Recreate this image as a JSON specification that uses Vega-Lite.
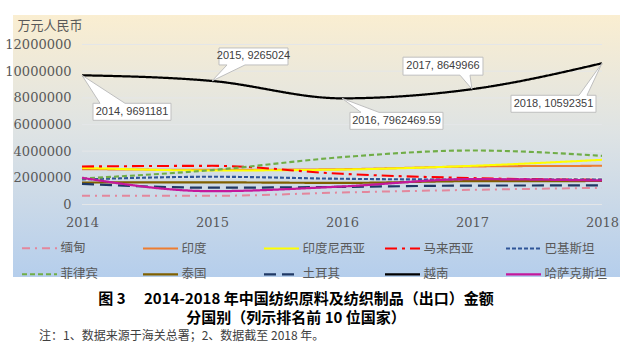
{
  "$schema": "https://vega.github.io/schema/vega-lite/v6.json",
  "width": 607,
  "height": 262,
  "autosize": {"type": "none"},
  "padding": {"left": 13, "top": 15, "right": 20, "bottom": 76},
  "background": "white",
  "view": {
    "stroke": null,
    "fill": {"gradient": "linear", "x1": 0, "y1": 0, "x2": 0, "y2": 1,
      "stops": [
        {"offset": 0, "color": "#FAEED1"},
        {"offset": 0.45, "color": "#DEE3E4"},
        {"offset": 1, "color": "#B5CEEC"}
      ]}
  },
  "title": {
    "text": "注：1、数据来源于海关总署；2、数据截至 2018 年。",
    "orient": "bottom", "anchor": "start", "frame": "group", "dx": 26, "offset": 5,
    "fontSize": 12, "fontWeight": "normal", "font": "Noto Sans CJK SC", "color": "#404040"
  },
  "data": {"values": [
    {"country": "缅甸", "year": 2014, "value": 650000},
    {"country": "缅甸", "year": 2015, "value": 650000},
    {"country": "缅甸", "year": 2016, "value": 900000},
    {"country": "缅甸", "year": 2017, "value": 1100000},
    {"country": "缅甸", "year": 2018, "value": 1250000},
    {"country": "印度", "year": 2014, "value": 2650000},
    {"country": "印度", "year": 2015, "value": 2600000},
    {"country": "印度", "year": 2016, "value": 2650000},
    {"country": "印度", "year": 2017, "value": 2850000},
    {"country": "印度", "year": 2018, "value": 2900000},
    {"country": "印度尼西亚", "year": 2014, "value": 2750000},
    {"country": "印度尼西亚", "year": 2015, "value": 2550000},
    {"country": "印度尼西亚", "year": 2016, "value": 2620000},
    {"country": "印度尼西亚", "year": 2017, "value": 2900000},
    {"country": "印度尼西亚", "year": 2018, "value": 3350000},
    {"country": "马来西亚", "year": 2014, "value": 2850000},
    {"country": "马来西亚", "year": 2015, "value": 2900000},
    {"country": "马来西亚", "year": 2016, "value": 2300000},
    {"country": "马来西亚", "year": 2017, "value": 1980000},
    {"country": "马来西亚", "year": 2018, "value": 1850000},
    {"country": "巴基斯坦", "year": 2014, "value": 1880000},
    {"country": "巴基斯坦", "year": 2015, "value": 2080000},
    {"country": "巴基斯坦", "year": 2016, "value": 1930000},
    {"country": "巴基斯坦", "year": 2017, "value": 1870000},
    {"country": "巴基斯坦", "year": 2018, "value": 1880000},
    {"country": "菲律宾", "year": 2014, "value": 1950000},
    {"country": "菲律宾", "year": 2015, "value": 2580000},
    {"country": "菲律宾", "year": 2016, "value": 3550000},
    {"country": "菲律宾", "year": 2017, "value": 4050000},
    {"country": "菲律宾", "year": 2018, "value": 3650000},
    {"country": "泰国", "year": 2014, "value": 1650000},
    {"country": "泰国", "year": 2015, "value": 1660000},
    {"country": "泰国", "year": 2016, "value": 1620000},
    {"country": "泰国", "year": 2017, "value": 1750000},
    {"country": "泰国", "year": 2018, "value": 1760000},
    {"country": "土耳其", "year": 2014, "value": 1550000},
    {"country": "土耳其", "year": 2015, "value": 1260000},
    {"country": "土耳其", "year": 2016, "value": 1320000},
    {"country": "土耳其", "year": 2017, "value": 1420000},
    {"country": "土耳其", "year": 2018, "value": 1430000},
    {"country": "越南", "year": 2014, "value": 9691181},
    {"country": "越南", "year": 2015, "value": 9265024},
    {"country": "越南", "year": 2016, "value": 7962469.59},
    {"country": "越南", "year": 2017, "value": 8649966},
    {"country": "越南", "year": 2018, "value": 10592351},
    {"country": "哈萨克斯坦", "year": 2014, "value": 2000000},
    {"country": "哈萨克斯坦", "year": 2015, "value": 1000000},
    {"country": "哈萨克斯坦", "year": 2016, "value": 1350000},
    {"country": "哈萨克斯坦", "year": 2017, "value": 1900000},
    {"country": "哈萨克斯坦", "year": 2018, "value": 1800000}
  ]},
  "layer": [
    {
      "data": {"values": [{"value": 0}, {"value": 2000000}, {"value": 4000000}, {"value": 6000000}, {"value": 8000000}, {"value": 10000000}, {"value": 12000000}]},
      "mark": {"type": "rule", "color": "#E4E6E8", "strokeWidth": 1},
      "encoding": {
        "x": {"datum": 2014, "type": "quantitative", "scale": {"domain": [2013.4692, 2018.1385], "nice": false, "zero": false}},
        "x2": {"datum": 2018},
        "y": {"field": "value", "type": "quantitative", "scale": {"domain": [-5437500, 14212500], "nice": false, "zero": false}}
      }
    },
    {
      "mark": {"type": "line", "interpolate": "monotone"},
      "encoding": {
        "x": {"field": "year", "type": "quantitative",
          "scale": {"domain": [2013.4692, 2018.1385], "nice": false, "zero": false},
          "axis": {"values": [2014, 2015, 2016, 2017, 2018], "format": "d", "ticks": false, "domain": false, "grid": false,
            "offset": -72.5, "labelPadding": 17.5, "labelBaseline": "middle", "labelFlush": false,
            "labelFont": "DejaVu Serif", "labelFontSize": 13, "labelColor": "#595959",
            "title": ["图 3\u3000 2014-2018 年中国纺织原料及纺织制品（出口）金额", "分国别（列示排名前 10 位国家）"],
            "titleX": 282.5, "titleY": 87, "titleAlign": "center", "titleBaseline": "top",
            "titleFont": "Noto Sans CJK SC", "titleFontSize": 15, "titleFontWeight": "bold", "titleColor": "#000000", "titleLineHeight": 19}},
        "y": {"field": "value", "type": "quantitative",
          "scale": {"domain": [-5437500, 14212500], "nice": false, "zero": false},
          "axis": {"values": [0, 2000000, 4000000, 6000000, 8000000, 10000000, 12000000], "format": "d", "ticks": false, "domain": false, "grid": false,
            "labelPadding": -58, "labelAlign": "right", "labelFont": "DejaVu Serif", "labelFontSize": 13, "labelColor": "#595959",
            "title": "万元人民币", "titleAngle": 0, "titleX": 4, "titleY": 10, "titleAlign": "left", "titleBaseline": "middle",
            "titleFont": "Noto Sans CJK SC", "titleFontSize": 13, "titleFontWeight": "normal", "titleColor": "#595959"}},
        "color": {"field": "country", "type": "nominal",
          "scale": {"domain": ["缅甸", "印度", "印度尼西亚", "马来西亚", "巴基斯坦", "菲律宾", "泰国", "土耳其", "越南", "哈萨克斯坦"],
            "range": ["#E3879C", "#ED7D31", "#FFFF00", "#FF0000", "#2F5597", "#70AD47", "#806000", "#1F3864", "#000000", "#C4189C"]},
          "legend": {"title": null, "orient": "none", "legendX": 7.5, "legendY": 214.3, "direction": "horizontal", "columns": 5,
            "symbolType": "stroke", "symbolSize": 1225, "symbolStrokeWidth": 2.5,
            "labelFont": "Noto Sans CJK SC", "labelFontSize": 12.5, "labelColor": "#595959",
            "labelOffset": 2, "columnPadding": 15, "rowPadding": -24, "gridAlign": "all",
            "padding": 0, "labelLimit": 0}},
        "strokeDash": {"field": "country", "type": "nominal",
          "scale": {"domain": ["缅甸", "印度", "印度尼西亚", "马来西亚", "巴基斯坦", "菲律宾", "泰国", "土耳其", "越南", "哈萨克斯坦"],
            "range": [[8, 5, 2, 5], [1, 0], [1, 0], [12, 5, 3, 5], [4, 2], [5, 3], [1, 0], [12, 6], [1, 0], [1, 0]]},
          "legend": {"title": null, "orient": "none", "legendX": 7.5, "legendY": 214.3, "direction": "horizontal", "columns": 5,
            "symbolType": "stroke", "symbolSize": 1225, "symbolStrokeWidth": 2.5,
            "labelFont": "Noto Sans CJK SC", "labelFontSize": 12.5, "labelColor": "#595959",
            "labelOffset": 2, "columnPadding": 15, "rowPadding": -24, "gridAlign": "all",
            "padding": 0, "labelLimit": 0}},
        "strokeWidth": {"field": "country", "type": "nominal", "legend": null,
          "scale": {"domain": ["缅甸", "印度", "印度尼西亚", "马来西亚", "巴基斯坦", "菲律宾", "泰国", "土耳其", "越南", "哈萨克斯坦"],
            "range": [2, 2.25, 2.5, 3.5, 2.5, 2.5, 2.5, 2.5, 2.25, 2.5]}}
      }
    },
    {
      "transform": [{"filter": "datum.country === '越南'"}],
      "mark": {"type": "point", "filled": true, "fill": "white", "stroke": "#BFBFBF", "strokeWidth": 1, "size": 4, "opacity": 1},
      "encoding": {
        "x": {"field": "year", "type": "quantitative"},
        "y": {"field": "value", "type": "quantitative"},
        "shape": {"field": "year", "type": "nominal", "legend": null,
          "scale": {"domain": [2014, 2015, 2016, 2017, 2018],
            "range": [
              "M0,0L18,28L11,28L11,45L89,45L89,28L43,28Z",
              "M0,0L15,-16L7,-16L7,-33L76,-33L76,-16L33,-16Z",
              "M0,0L19,14L8,14L8,31L101,31L101,14L37,14Z",
              "M0,0L-2,-14L11,-14L11,-32L-69,-32L-69,-14L-12,-14Z",
              "M0,0L-15,32L-6,32L-6,49L-91,49L-91,32L-23,32Z"
            ]}}
      }
    },
    {
      "transform": [{"filter": "datum.country === '越南' && datum.year === 2014"}, {"calculate": "datum.year + ', ' + datum.value", "as": "label"}],
      "mark": {"type": "text", "dx": 50, "dy": 36.5, "align": "center", "baseline": "middle", "font": "Liberation Sans", "fontSize": 11, "color": "#404040"},
      "encoding": {"x": {"field": "year", "type": "quantitative"}, "y": {"field": "value", "type": "quantitative"}, "text": {"field": "label"}}
    },
    {
      "transform": [{"filter": "datum.country === '越南' && datum.year === 2015"}, {"calculate": "datum.year + ', ' + datum.value", "as": "label"}],
      "mark": {"type": "text", "dx": 41.5, "dy": -24.5, "align": "center", "baseline": "middle", "font": "Liberation Sans", "fontSize": 11, "color": "#404040"},
      "encoding": {"x": {"field": "year", "type": "quantitative"}, "y": {"field": "value", "type": "quantitative"}, "text": {"field": "label"}}
    },
    {
      "transform": [{"filter": "datum.country === '越南' && datum.year === 2016"}, {"calculate": "datum.year + ', ' + datum.value", "as": "label"}],
      "mark": {"type": "text", "dx": 54.5, "dy": 22.5, "align": "center", "baseline": "middle", "font": "Liberation Sans", "fontSize": 11, "color": "#404040"},
      "encoding": {"x": {"field": "year", "type": "quantitative"}, "y": {"field": "value", "type": "quantitative"}, "text": {"field": "label"}}
    },
    {
      "transform": [{"filter": "datum.country === '越南' && datum.year === 2017"}, {"calculate": "datum.year + ', ' + datum.value", "as": "label"}],
      "mark": {"type": "text", "dx": -29, "dy": -23, "align": "center", "baseline": "middle", "font": "Liberation Sans", "fontSize": 11, "color": "#404040"},
      "encoding": {"x": {"field": "year", "type": "quantitative"}, "y": {"field": "value", "type": "quantitative"}, "text": {"field": "label"}}
    },
    {
      "transform": [{"filter": "datum.country === '越南' && datum.year === 2018"}, {"calculate": "datum.year + ', ' + datum.value", "as": "label"}],
      "mark": {"type": "text", "dx": -48.5, "dy": 40.5, "align": "center", "baseline": "middle", "font": "Liberation Sans", "fontSize": 11, "color": "#404040"},
      "encoding": {"x": {"field": "year", "type": "quantitative"}, "y": {"field": "value", "type": "quantitative"}, "text": {"field": "label"}}
    }
  ]
}
